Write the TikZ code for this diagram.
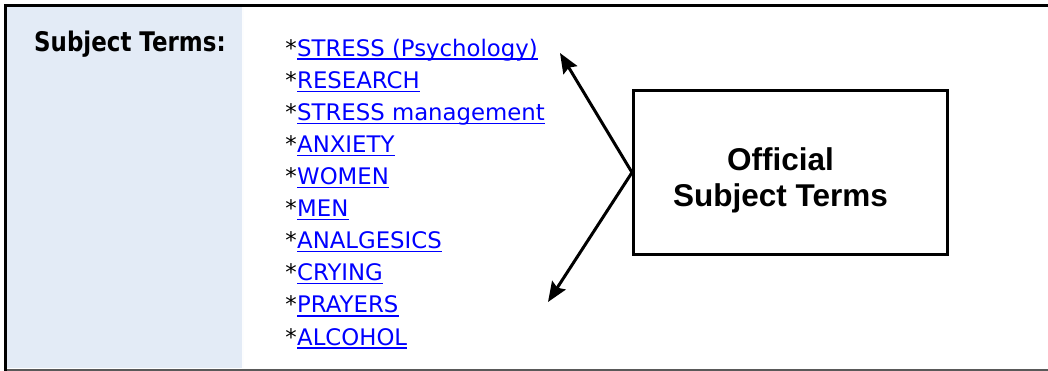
\documentclass[tikz,border=0pt]{standalone}
\usepackage{fontspec}
\usepackage{xcolor}
\usetikzlibrary{arrows.meta}
\newfontfamily\listfont{DejaVu Sans}
\newfontfamily\headfont[FakeStretch=0.85]{DejaVu Sans}
\newfontfamily\boxfont{Liberation Sans}
\definecolor{panelblue}{RGB}{227,235,246}
\definecolor{linkblue}{RGB}{0,0,255}

\begin{document}
\begin{tikzpicture}[x=1pt,y=-1pt]
\tikzset{term/.style={anchor=base west,inner sep=0pt,text=linkblue,font=\listfont\fontsize{22.8}{26}\selectfont}}
\tikzset{star/.style={anchor=base east,inner sep=0pt,font=\listfont\fontsize{22.8}{26}\selectfont}}
\tikzset{termline/.style={linkblue,line width=1.3pt}}
\tikzset{pointer/.style={line width=3pt,-{Stealth[length=20pt,width=16pt,inset=3pt]}}}

\useasboundingbox (0,0) rectangle (1048,371);
\fill[panelblue] (7,7) rectangle (242,368);
\draw[white!90!panelblue,line width=2pt] (243,7) -- (243,368);
\draw[black!65,line width=2pt] (4,369.8) -- (1048,369.8);
\draw[line width=3pt] (5.5,371) -- (5.5,5.5) -- (1048,5.5);

\node[anchor=base west,inner sep=0pt,font=\headfont\bfseries\fontsize{27}{30}\selectfont] (heading) at (34,52) {Subject Terms:};

\foreach \term [count=\i] in {STRESS (Psychology),RESEARCH,STRESS management,ANXIETY,WOMEN,MEN,ANALGESICS,CRYING,PRAYERS,ALCOHOL}
{
  \node[term] (t\i) at (297,{24+32.1*\i}) {\term};
  \node[star] (s\i) at (t\i.base west) {*};
  \draw[termline] ([yshift=-3pt]t\i.base west) -- ([yshift=-3pt]t\i.base east);
}

\node[draw,line width=3pt,minimum width=314pt,minimum height=164pt,align=center,
  font=\boxfont\bfseries\fontsize{31.5}{36}\selectfont] (official)
  at (790.5,172.5) {\rule{0pt}{38pt}Official\hspace*{20pt}\\Subject Terms\hspace*{20pt}};

\coordinate (uptip) at (560,53);
\coordinate (downtip) at (548,302);
\draw[pointer] (official.west) -- (uptip);
\draw[pointer] (official.west) -- (downtip);

\end{tikzpicture}
\end{document}
